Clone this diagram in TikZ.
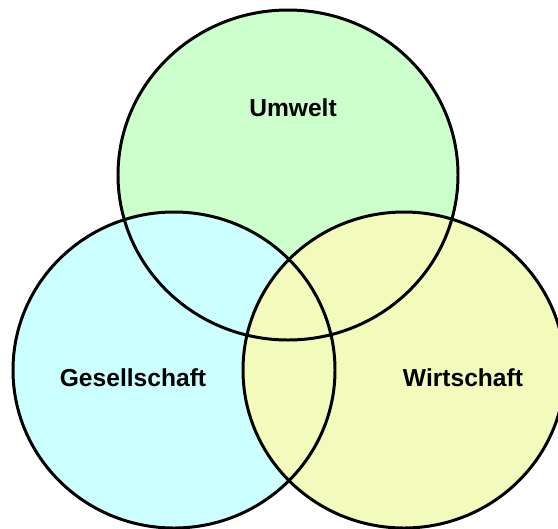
\documentclass[tikz,border=0pt]{standalone}
\usepackage{fontspec}
\setmainfont{Liberation Sans}
\usepackage{xcolor}
\definecolor{umweltgreen}{RGB}{204,255,204}
\definecolor{gesellcyan}{RGB}{204,255,255}
\definecolor{wirtyellow}{RGB}{242,250,188}

\begin{document}
\begin{tikzpicture}[
    x=0.02cm, y=-0.02cm,
    ring/.style={draw=black, line width=1.7pt},
    lbl/.style={font=\fontsize{14}{16}\selectfont\bfseries, inner sep=0pt}
  ]
  \useasboundingbox (0,0) rectangle (558,528);
  \clip (0,0) rectangle (558,528);

  % fills
  \fill[umweltgreen] (288,175) ellipse [x radius=170, y radius=165];
  \fill[gesellcyan]  (174,370) ellipse [x radius=161, y radius=158];
  \fill[wirtyellow]  (404,370) ellipse [x radius=161, y radius=158];

  % outlines on top
  \draw[ring] (288,175) ellipse [x radius=170, y radius=165];
  \draw[ring] (174,370) ellipse [x radius=161, y radius=158];
  \draw[ring] (404,370) ellipse [x radius=161, y radius=158];

  \node[lbl] (umwelt) at (293,108) {Umwelt};
  \node[lbl] (gesell) at (133,378) {Gesellschaft};
  \node[lbl] (wirt)   at (463,378) {Wirtschaft};
\end{tikzpicture}
\end{document}
